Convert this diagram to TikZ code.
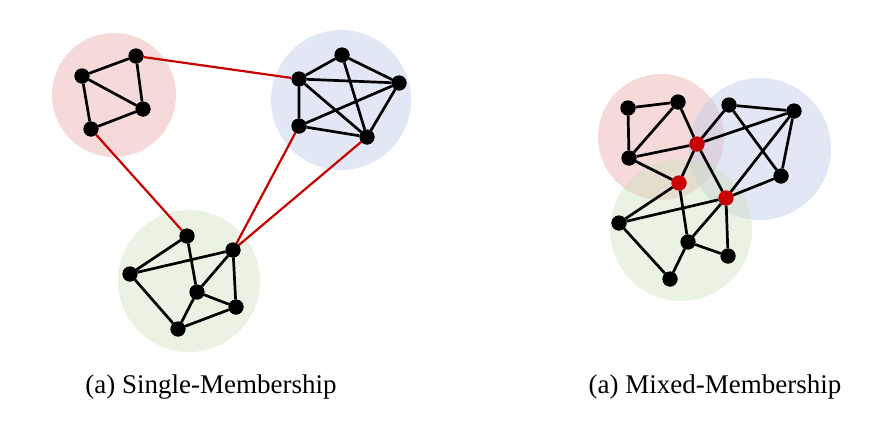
\documentclass[tikz,border=0pt]{standalone}
\usepackage{fontspec}
\setmainfont{Liberation Serif}
\definecolor{cpink}{RGB}{235,170,170}
\definecolor{cblue}{RGB}{190,202,232}
\definecolor{cgreen}{RGB}{208,226,194}
\definecolor{cred}{RGB}{200,0,0}
\tikzset{
  vert/.style={circle,fill=black,inner sep=0pt,minimum size=15pt},
  rvert/.style={circle,fill=cred,inner sep=0pt,minimum size=15pt},
  edge/.style={line width=2.7pt,black},
  redge/.style={line width=2.2pt,cred},
  blob/.style={opacity=0.45},
  captxt/.style={font=\fontsize{27}{31}\selectfont,anchor=base}
}
\begin{document}
\begin{tikzpicture}[x=1pt,y=-1pt]
\useasboundingbox (0,0) rectangle (892,429);
% ---------- Single membership ----------
\fill[blob,cpink] (114,95) circle (62);
\fill[blob,cblue] (341,100) circle (70);
\fill[blob,cgreen] (189,281) circle (71);
\node[vert] (R1) at (136,56) {};
\node[vert] (R2) at (82,76) {};
\node[vert] (R3) at (143,109) {};
\node[vert] (R4) at (91,129) {};
\node[vert] (B1) at (342,55) {};
\node[vert] (B2) at (299,79) {};
\node[vert] (B3) at (399,83) {};
\node[vert] (B4) at (299,126) {};
\node[vert] (B5) at (367,137) {};
\node[vert] (G1) at (187,236) {};
\node[vert] (G2) at (233,250) {};
\node[vert] (G3) at (130,274) {};
\node[vert] (G4) at (197,292) {};
\node[vert] (G5) at (236,307) {};
\node[vert] (G6) at (178,329) {};
\draw[edge] (R1)--(R2) (R1)--(R3) (R2)--(R3) (R2)--(R4) (R3)--(R4);
\draw[edge] (B1)--(B2) (B1)--(B3) (B1)--(B5) (B2)--(B3) (B2)--(B4) (B2)--(B5) (B4)--(B3) (B4)--(B5) (B3)--(B5);
\draw[edge] (G1)--(G3) (G1)--(G4) (G3)--(G2) (G2)--(G4) (G2)--(G5) (G4)--(G5) (G3)--(G6) (G4)--(G6) (G6)--(G5);
\draw[redge] (R1)--(B2) (R4)--(G1) (B4)--(G2) (B5)--(G2);
% ---------- Mixed membership ----------
\fill[blob,cpink] (661,137) circle (63);
\fill[blob,cblue] (760,149) circle (71);
\fill[blob,cgreen] (681,230) circle (71);
\node[vert] (M1) at (628,108) {};
\node[vert] (M2) at (678,102) {};
\node[vert] (M3) at (629,158) {};
\node[rvert] (X1) at (697,144) {};
\node[rvert] (X2) at (679,183) {};
\node[rvert] (X3) at (726,198) {};
\node[vert] (N1) at (729,105) {};
\node[vert] (N2) at (794,111) {};
\node[vert] (N3) at (781,176) {};
\node[vert] (P1) at (619,223) {};
\node[vert] (P2) at (688,242) {};
\node[vert] (P3) at (728,256) {};
\node[vert] (P4) at (670,279) {};
\draw[edge] (M1)--(M2) (M1)--(M3) (M2)--(M3) (M2)--(X1) (M3)--(X1) (M3)--(X2)
  (X1)--(N1) (X1)--(N2) (X1)--(X2) (X1)--(X3)
  (N1)--(N2) (N1)--(N3) (N2)--(N3) (N2)--(X3) (N3)--(X3)
  (X2)--(P1) (X2)--(P2) (X3)--(P1) (X3)--(P2) (X3)--(P3)
  (P2)--(P3) (P1)--(P4) (P2)--(P4);
% redraw node discs on top of the edges
\foreach \n in {M1,M2,M3,N1,N2,N3,P1,P2,P3,P4,R1,R2,R3,R4,B1,B2,B3,B4,B5,G1,G2,G3,G4,G5,G6}
  \fill[black] (\n) circle (7.5);
\foreach \n in {X1,X2,X3}
  \fill[cred] (\n) circle (7.5);
% ---------- captions ----------
\node[captxt] (c1) at (211,393) {(a) Single-Membership};
\node[captxt] (c2) at (715,393) {(a) Mixed-Membership};
\end{tikzpicture}
\end{document}
